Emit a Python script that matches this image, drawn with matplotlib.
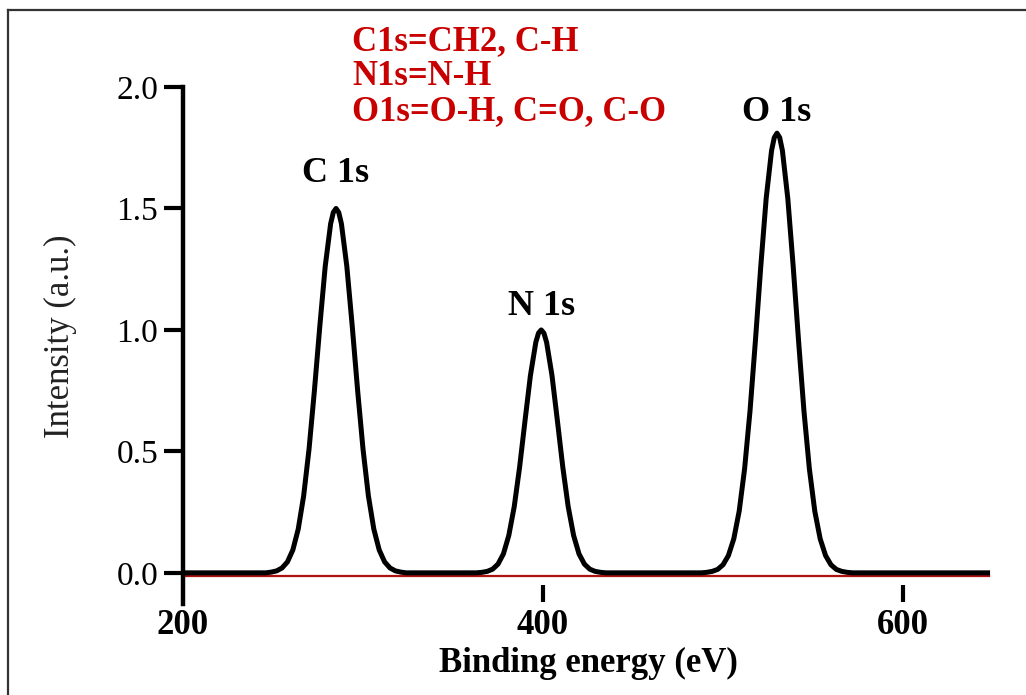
import numpy as np
import matplotlib
matplotlib.use("Agg")
import matplotlib.pyplot as plt
from matplotlib.lines import Line2D

# XPS survey spectrum, intensity read per binding energy (eV)
energy = [200, 246, 249, 252, 255, 258, 261, 264, 267, 270, 273, 276, 279, 282, 283.5, 285,
          286.5, 288, 291, 294, 297, 300, 303, 306, 309, 312, 315, 318, 321, 324,
          363, 366, 369, 372, 375, 378, 381, 384, 387, 390, 393, 396, 397.5, 399,
          400.5, 402, 405, 408, 411, 414, 417, 420, 423, 426, 429, 432, 435,
          488, 491, 494, 497, 500, 503, 506, 509, 512, 515, 518, 521, 524, 527, 528.5, 530,
          531.5, 533, 536, 539, 542, 545, 548, 551, 554, 557, 560, 563, 566, 569, 572, 647]
intensity = [0.0, 0.0, 0.003, 0.008, 0.020, 0.045, 0.094, 0.180, 0.316, 0.509, 0.751, 1.016, 1.262, 1.437, 1.484, 1.50,
             1.484, 1.437, 1.262, 1.016, 0.751, 0.509, 0.316, 0.180, 0.094, 0.045, 0.020, 0.008, 0.003, 0.0,
             0.0, 0.002, 0.006, 0.015, 0.036, 0.078, 0.154, 0.272, 0.435, 0.626, 0.812, 0.949, 0.987, 1.0,
             0.987, 0.949, 0.812, 0.626, 0.435, 0.272, 0.154, 0.078, 0.036, 0.015, 0.006, 0.002, 0.0,
             0.0, 0.002, 0.006, 0.014, 0.033, 0.071, 0.140, 0.254, 0.428, 0.665, 0.954, 1.262, 1.542, 1.739, 1.792, 1.81,
             1.792, 1.739, 1.542, 1.262, 0.954, 0.665, 0.428, 0.254, 0.140, 0.071, 0.033, 0.014, 0.006, 0.002, 0.0, 0.0]

# background line
bg_energy = [200, 648]
bg_level = [-0.015, -0.015]

peak_names = ["C 1s", "N 1s", "O 1s"]
peak_pos = [285, 399, 530]
peak_label_y = [1.61, 1.06, 1.86]

assignments = ["C1s=CH2, C-H", "N1s=N-H", "O1s=O-H, C=O, C-O"]

x_ticks = [200, 400, 600]
y_ticks = [0.0, 0.5, 1.0, 1.5, 2.0]

serif = "Liberation Serif"

fig = plt.figure(figsize=(10.26, 6.95), dpi=100)
ax = fig.add_axes([0.1784, 0.1583, 0.7894, 0.7165])

ax.plot(bg_energy, bg_level, color="#b01010", lw=1.6, zorder=2)
ax.plot(energy, intensity, color="black", lw=3.6, solid_joinstyle="round", zorder=3)

ax.set_xlim(200, 650)
ax.set_ylim(-0.05, 2.0)

for side in ["top", "right", "bottom"]:
    ax.spines[side].set_visible(False)
ax.spines["left"].set_linewidth(3.2)
ax.spines["left"].set_bounds(-0.13, 2.0)

ax.set_xticks(x_ticks)
ax.set_yticks(y_ticks)
ax.set_yticklabels([f"{v:.1f}" for v in y_ticks], fontfamily=serif, fontsize=24)
ax.set_xticklabels([str(v) for v in x_ticks], fontfamily=serif, fontsize=25, fontweight="bold")
ax.tick_params(axis="y", direction="out", length=14, width=3, pad=4)
ax.tick_params(axis="x", direction="out", length=12, width=3, pad=5)
ax.xaxis.get_major_ticks()[0].tick1line.set_visible(False)

ax.set_ylabel("Intensity (a.u.)", fontfamily=serif, fontsize=25, color="#222222", labelpad=28)
ax.set_xlabel("Binding energy (eV)", fontfamily=serif, fontsize=25, fontweight="bold", labelpad=4)

for name, pos, y in zip(peak_names, peak_pos, peak_label_y):
    ax.text(pos, y, name, ha="center", va="baseline", fontfamily=serif,
            fontsize=26, fontweight="bold", clip_on=False)

for i, line in enumerate(assignments):
    fig.text(352 / 1026, 1 - (50 + 35 * i) / 695, line, ha="left", va="baseline",
             fontfamily=serif, fontsize=25, fontweight="bold", color="#c80000")

# frame around the panel
fig.add_artist(Line2D([8 / 1026, 1.01], [1 - 10 / 695, 1 - 10 / 695],
                      transform=fig.transFigure, color="#333333", lw=1.6))
fig.add_artist(Line2D([8 / 1026, 8 / 1026], [-0.01, 1 - 10 / 695],
                      transform=fig.transFigure, color="#333333", lw=1.6))

fig.savefig("out.png", dpi=100, facecolor="white")
